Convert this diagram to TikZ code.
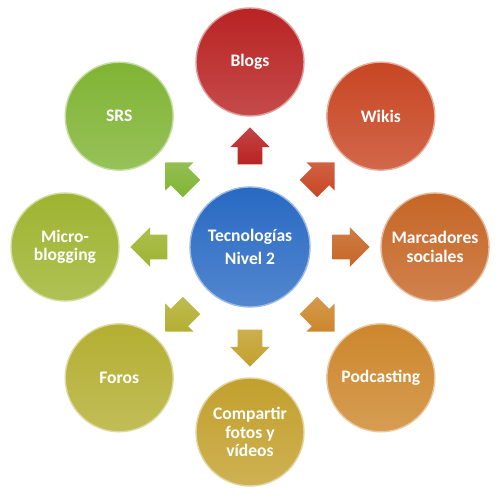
\documentclass[tikz,border=0pt]{standalone}
\usepackage{fontspec}
\setmainfont{Carlito}
\usetikzlibrary{shapes.arrows}
\definecolor{cblogs}{RGB}{185,35,35}
\definecolor{cwikis}{RGB}{200,70,35}
\definecolor{cmarc}{RGB}{198,102,38}
\definecolor{cpod}{RGB}{205,135,45}
\definecolor{ccomp}{RGB}{195,160,45}
\definecolor{cforos}{RGB}{180,175,50}
\definecolor{cmicro}{RGB}{158,180,48}
\definecolor{csrs}{RGB}{128,180,52}
\definecolor{ctec}{RGB}{40,105,195}
\begin{document}
\begin{tikzpicture}
	% Styles
	\tikzstyle{bubble}=[circle,minimum size=2.16cm,inner sep=0pt,align=center,text=white,font=\bfseries\fontsize{10}{10.5}\selectfont,line width=0.8pt]
	\tikzstyle{blockarrow}=[single arrow,minimum height=0.74cm,inner xsep=0pt,inner ysep=0.24cm,single arrow head extend=0.15cm]

	\useasboundingbox (0,0) rectangle (10,10);

	% Central node
	\node[bubble,minimum size=2.4cm,draw=ctec!45!white,top color=ctec,bottom color=ctec!80!white,font=\bfseries\fontsize{10}{13}\selectfont] (tec) at (5,5.06) {Tecnologías\\Nivel 2};

	% Outer nodes and arrows
	\foreach \name/\ang/\col/\txt in {blogs/90/cblogs/Blogs, wikis/45/cwikis/Wikis, marc/0/cmarc/{Marcadores\\sociales}, pod/-45/cpod/Podcasting, comp/-90/ccomp/{Compartir\\fotos y\\vídeos}, foros/-135/cforos/Foros, micro/180/cmicro/{Micro-\\blogging}, srs/135/csrs/SRS}
	{
		\node[bubble,draw=\col!45!white,top color=\col,bottom color=\col!82!white] (\name) at ([shift={(\ang:3.7)}]tec) {\txt};
		\node[blockarrow,rotate=\ang,top color=\col!85!white,bottom color=\col] (\name-arrow) at ([shift={(\ang:1.9)}]tec) {};
	}
\end{tikzpicture}
\end{document}
